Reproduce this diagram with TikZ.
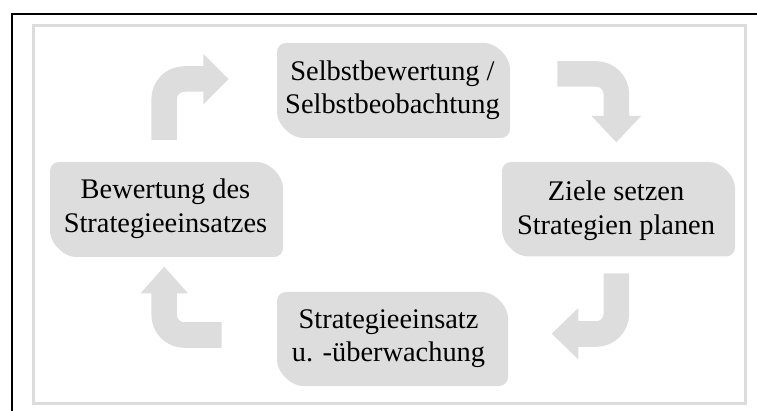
\documentclass[tikz,border=0pt]{standalone}
\usepackage{fontspec}
\setmainfont{Liberation Serif}
\definecolor{boxgray}{HTML}{DDDDDD}
\definecolor{arrowgray}{HTML}{DDDDDD}
\definecolor{framegray}{HTML}{DCDCDC}
\newcommand\snipbox[1]{%
  \fill[boxgray,rounded corners=9]
    ([shift={(0,-17)}]#1.south west) -- (#1.north west)
    -- ([shift={(-17,0)}]#1.north east) -- ([shift={(0,17)}]#1.north east)
    -- (#1.south east) -- ([shift={(17,0)}]#1.south west) -- cycle;}
\begin{document}
\begin{tikzpicture}[x=1pt,y=-1pt,
  boxshape/.style={inner sep=0pt,outer sep=0pt,draw=none},
  txt/.style={align=center,inner sep=0pt,text=black,
    font=\fontsize{28.4}{33.5}\selectfont},
  bentshaft/.style={draw=arrowgray,line width=25.5pt,rounded corners=20pt},
  headtip/.style={fill=arrowgray}]
\useasboundingbox (0,0) rectangle (757,411);
% frames
\draw[black,line width=2pt] (11.5,411) -- (11.5,14) -- (757,14);
\draw[framegray,line width=3pt] (33.5,25.5) rectangle (745,403);
% box shapes
\node[boxshape,minimum width=233pt,minimum height=95pt] (b1) at (393.5,90.5) {};
\node[boxshape,minimum width=233pt,minimum height=94.5pt] (b2) at (618.5,209.25) {};
\node[boxshape,minimum width=231pt,minimum height=94pt] (b3) at (392.5,339) {};
\node[boxshape,minimum width=233pt,minimum height=95pt] (b4) at (166.5,209.5) {};
\snipbox{b1}\snipbox{b2}\snipbox{b3}\snipbox{b4}
% texts
\node[txt] (t1) at (392.5,90.3) {\strut Selbstbewertung /\\\strut Selbstbeobachtung};
\node[txt] (t2) at (616,211) {\strut Ziele setzen\\\strut Strategien planen};
\node[txt] (t3) at (388.5,338.3) {\strut Strategieeinsatz\\\strut u. -überwachung};
\node[txt] (t4) at (165.5,208.6) {\strut Bewertung des\\\strut Strategieeinsatzes};
% arrow 1 (left, up then right)
\coordinate (a1s) at (164.2,140);
\coordinate (a1m) at (164.2,79);
\coordinate (a1e) at (204.5,79);
\draw[bentshaft] (a1s) -- (a1m) -- (a1e);
\fill[headtip] (203.3,54) -- (228.5,79) -- (203.3,104.5) -- cycle;
% arrow 2 (top right, right then down)
\coordinate (a2s) at (557.3,74);
\coordinate (a2m) at (616.3,74);
\coordinate (a2e) at (616.3,117);
\draw[bentshaft] (a2s) -- (a2m) -- (a2e);
\fill[headtip] (591.5,116) -- (641,116) -- (616.3,142.3) -- cycle;
% arrow 3 (right, down then left)
\coordinate (a3s) at (616.3,273.3);
\coordinate (a3m) at (616.3,334);
\coordinate (a3e) at (577.3,334);
\draw[bentshaft] (a3s) -- (a3m) -- (a3e);
\fill[headtip] (578.3,308) -- (551.7,333.7) -- (578.3,359.3) -- cycle;
% arrow 4 (bottom left, left then up)
\coordinate (a4s) at (221.7,335);
\coordinate (a4m) at (164.2,335);
\coordinate (a4e) at (164.2,292.3);
\draw[bentshaft] (a4s) -- (a4m) -- (a4e);
\fill[headtip] (140.5,293.3) -- (164.2,266.7) -- (188,293.3) -- cycle;
\end{tikzpicture}
\end{document}
